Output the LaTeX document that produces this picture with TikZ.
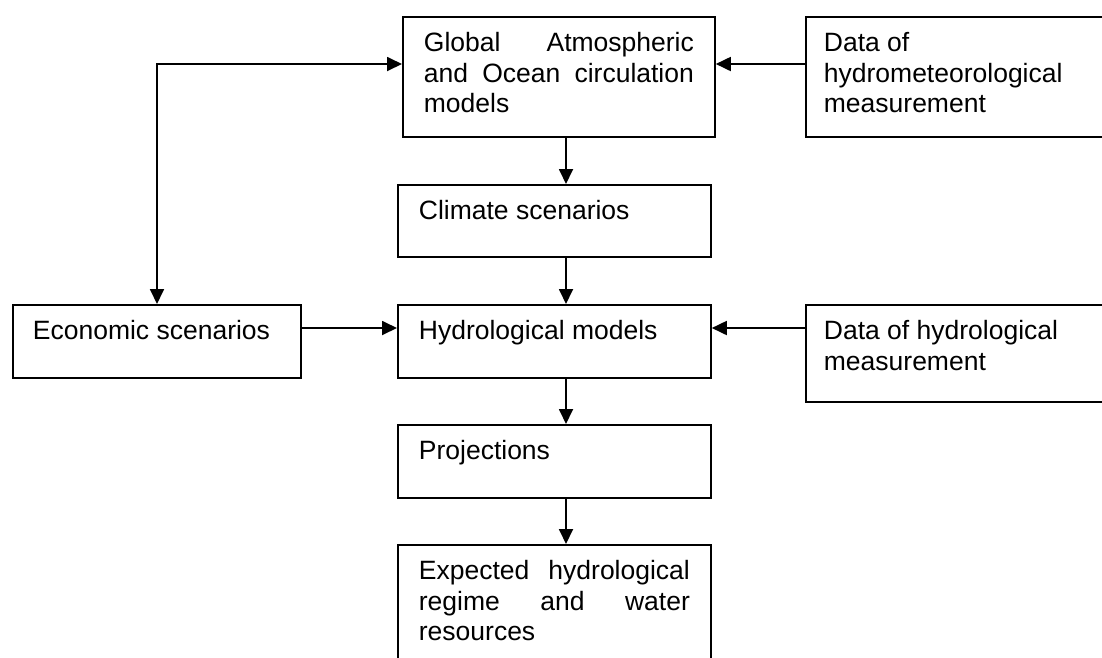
\documentclass[tikz,border=0pt]{standalone}
\usepackage{fontspec}
\setmainfont{Liberation Sans}
\usetikzlibrary{arrows.meta}
\newcommand{\boxtxt}[3]{\parbox[c][#1][t]{#2}{\raggedright\rule{0pt}{35pt}#3}}
\newcommand{\boxjust}[3]{\parbox[c][#1][t]{#2}{\rule{0pt}{35pt}#3}}
\tikzset{
  box/.style={draw, line width=1.8pt, anchor=north west, inner ysep=0pt, inner xsep=21pt,
              font=\fontsize{26.5pt}{30.5pt}\selectfont},
  databox/.style={box, inner xsep=18pt},
  arr/.style={line width=1.8pt, -{Triangle[length=15pt,width=14pt]}},
  arrboth/.style={line width=1.8pt, {Triangle[length=15pt,width=14pt]}-{Triangle[length=15pt,width=14pt]}}
}
\begin{document}
\begin{tikzpicture}[x=1pt,y=-1pt]
\useasboundingbox (0,0) rectangle (1102,657);
\node[box] (glob) at (402,16) {\boxjust{120pt}{270pt}{Global\hfill Atmospheric\\and\hfill Ocean\hfill circulation\\models}};
\node[databox] (hmet) at (805,16) {\boxtxt{120pt}{300pt}{Data of\\hydrometeorological\\measurement}};
\node[box] (clim) at (397,184) {\boxtxt{72pt}{271pt}{Climate scenarios}};
\node[box, inner xsep=20pt] (econ) at (12,304) {\boxtxt{73pt}{248pt}{Economic scenarios}};
\node[box] (hydro) at (397,304) {\boxtxt{73pt}{271pt}{Hydrological models}};
\node[databox] (hdat) at (805,304) {\boxtxt{97pt}{300pt}{Data of hydrological\\measurement}};
\node[box] (proj) at (397,424) {\boxtxt{73pt}{271pt}{Projections}};
\node[box] (expc) at (397,544) {\boxjust{130pt}{271pt}{Expected\hfill hydrological\\regime\hfill and\hfill water\\resources}};
\coordinate (col) at (566,0);
\coordinate (rowA) at (0,64);
\coordinate (rowB) at (0,328);
\coordinate (bend) at (157,64);
\draw[arr] (glob.south -| col) -- (clim.north -| col);
\draw[arr] (clim.south -| col) -- (hydro.north -| col);
\draw[arr] (hydro.south -| col) -- (proj.north -| col);
\draw[arr] (proj.south -| col) -- (expc.north -| col);
\draw[arr] (hmet.west |- rowA) -- (glob.east |- rowA);
\draw[arr] (hdat.west |- rowB) -- (hydro.east |- rowB);
\draw[arr] (econ.east |- rowB) -- (hydro.west |- rowB);
\draw[arrboth] (econ.north -| bend) -- (bend) -- (glob.west |- bend);
\end{tikzpicture}
\end{document}
